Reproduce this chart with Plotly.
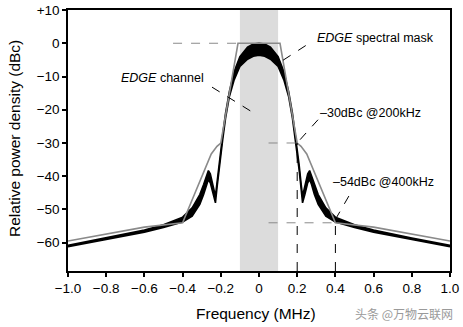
import plotly.graph_objects as go

# Signal envelope (upper / lower edges of the measured PSD band)
freq = [-1.0, -0.8, -0.6, -0.5, -0.4, -0.35, -0.31, -0.29, -0.275, -0.265, -0.255, -0.24, -0.228,
        -0.22, -0.21, -0.2, -0.19, -0.175, -0.155, -0.13, -0.1, -0.06, -0.03, 0.0,
        0.03, 0.06, 0.1, 0.13, 0.155, 0.175, 0.19, 0.2, 0.21, 0.22, 0.228, 0.24, 0.255,
        0.265, 0.275, 0.29, 0.31, 0.35, 0.4, 0.5, 0.6, 0.8, 1.0]
psd_upper = [-60.8, -58.6, -56.2, -54.6, -52.3, -49.5, -45.5, -42.5, -39.8, -38.3, -39.3, -43.0, -46.0,
             -42.0, -36.5, -31.5, -27.5, -21.0, -14.5, -8.5, -4.0, -1.2, -0.2, 0.0,
             -0.2, -1.2, -4.0, -8.5, -14.5, -21.0, -27.5, -31.5, -36.5, -42.0, -46.0, -43.0, -39.3,
             -38.3, -39.8, -42.5, -45.5, -49.5, -52.3, -54.6, -56.2, -58.6, -60.8]
psd_lower = [-61.2, -59.0, -56.8, -55.4, -53.8, -52.0, -48.5, -45.5, -42.5, -41.0, -42.0, -45.5, -48.0,
             -43.5, -38.0, -33.0, -29.0, -22.5, -16.0, -11.0, -7.0, -4.8, -3.9, -3.6,
             -3.9, -4.8, -7.0, -11.0, -16.0, -22.5, -29.0, -33.0, -38.0, -43.5, -48.0, -45.5, -42.0,
             -41.0, -42.5, -45.5, -48.5, -52.0, -53.8, -55.4, -56.8, -59.0, -61.2]

# EDGE spectral mask
mask_f = [-1.0, -0.8, -0.6, -0.4, -0.25, -0.22, -0.2, -0.11, 0.11, 0.2, 0.22, 0.25, 0.4, 0.6, 0.8, 1.0]
mask_db = [-59.5, -57.3, -55.3, -54.0, -33.3, -31.0, -30.0, 0.0, 0.0, -30.0, -31.0, -33.3, -54.0, -55.3, -57.3, -59.5]

x_ticks = [-1.0, -0.8, -0.6, -0.4, -0.2, 0.0, 0.2, 0.4, 0.6, 0.8, 1.0]
x_ticktext = ["−1.0", "−0.8", "−0.6", "−0.4", "−0.2", "0", "0.2", "0.4", "0.6", "0.8", "1.0"]
y_ticks = [10, 0, -10, -20, -30, -40, -50, -60]
y_ticktext = ["+10", "0", "−10", "−20", "−30", "−40", "−50", "−60"]

Y_MIN, Y_MAX = -68.5, 10
FONT = "Liberation Sans, Arial, sans-serif"

fig = go.Figure()

fig.add_trace(go.Scatter(x=freq, y=psd_lower, mode="lines",
                         line=dict(color="black", width=1.6), showlegend=False))
fig.add_trace(go.Scatter(x=freq, y=psd_upper, mode="lines", fill="tonexty",
                         fillcolor="black", line=dict(color="black", width=1.6), showlegend=False))
fig.add_trace(go.Scatter(x=mask_f, y=mask_db, mode="lines",
                         line=dict(color="#8a8a8a", width=1.6), showlegend=False))

shapes = []
# channel band
shapes.append(dict(type="rect", xref="x", yref="y", x0=-0.1, x1=0.1, y0=Y_MIN, y1=Y_MAX,
                   fillcolor="#dcdcdc", line=dict(width=0), layer="below"))
# gray dashed reference lines
for x0, x1, y in [(-0.45, -0.11, 0), (0.05, 0.2, -30), (0.05, 0.4, -54)]:
    shapes.append(dict(type="line", xref="x", yref="y", x0=x0, x1=x1, y0=y, y1=y,
                       line=dict(color="#8a8a8a", width=1, dash="dash")))
# black dashed verticals
for x, y in [(0.2, -30), (0.4, -54)]:
    shapes.append(dict(type="line", xref="x", yref="y", x0=x, x1=x, y0=Y_MIN, y1=y,
                       line=dict(color="black", width=1, dash="dash")))
# leader lines
for x0, y0, x1, y1 in [(0.126, -5.1, 0.25, -0.5), (-0.246, -13.2, -0.01, -21.6),
                       (0.215, -29.0, 0.309, -23.0), (0.40, -53.0, 0.49, -44.0)]:
    shapes.append(dict(type="line", xref="x", yref="y", x0=x0, y0=y0, x1=x1, y1=y1,
                       line=dict(color="black", width=1, dash="dash")))

annotations = [
    dict(x=0.61, y=1.5, text="<i>EDGE</i> spectral mask"),
    dict(x=-0.505, y=-10.5, text="<i>EDGE</i> channel"),
    dict(x=0.584, y=-21.0, text="–30dBc @200kHz"),
    dict(x=0.654, y=-41.7, text="–54dBc @400kHz"),
]
for a in annotations:
    a.update(xref="x", yref="y", showarrow=False, font=dict(family=FONT, size=12.5, color="black"))

# axis titles (placed explicitly)
annotations.append(dict(xref="paper", yref="paper", x=(256 - 68) / 382, y=(271 - 313) / 261,
                        xanchor="center", yanchor="middle", text="Frequency (MHz)", showarrow=False,
                        font=dict(family=FONT, size=15.5, color="black")))
annotations.append(dict(xref="paper", yref="paper", x=(14 - 68) / 382, y=(271 - 139) / 261,
                        xanchor="center", yanchor="middle", text="Relative power density (dBc)",
                        textangle=-90, showarrow=False,
                        font=dict(family=FONT, size=15.5, color="black")))
annotations.append(dict(xref="paper", yref="paper", x=(455 - 68) / 382, y=(271 - 313) / 261,
                        xanchor="right", yanchor="middle",
                        text="头条 @万物云联网", showarrow=False,
                        font=dict(family="Noto Sans CJK SC", size=12, color="#9a9a9a")))

fig.update_layout(
    width=463, height=327,
    margin=dict(l=68, r=13, t=10, b=56, autoexpand=False),
    paper_bgcolor="white", plot_bgcolor="white",
    font=dict(family=FONT, size=13.5, color="black"),
    shapes=shapes, annotations=annotations,
    xaxis=dict(range=[-1.0, 1.0], tickvals=x_ticks, ticktext=x_ticktext, automargin=False,
               showgrid=False, zeroline=False, showline=True, linecolor="black", linewidth=1.5,
               mirror=True, ticks="outside", ticklen=4, tickcolor="black", tickwidth=1.5,
               tickfont=dict(size=13.5)),
    yaxis=dict(range=[Y_MIN, Y_MAX], tickvals=y_ticks, ticktext=y_ticktext, automargin=False,
               showgrid=False, zeroline=False, showline=True, linecolor="black", linewidth=1.5,
               mirror=True, ticks="outside", ticklen=4, tickcolor="black", tickwidth=1.5,
               tickfont=dict(size=13.5)),
)

fig.write_html("out.html")
